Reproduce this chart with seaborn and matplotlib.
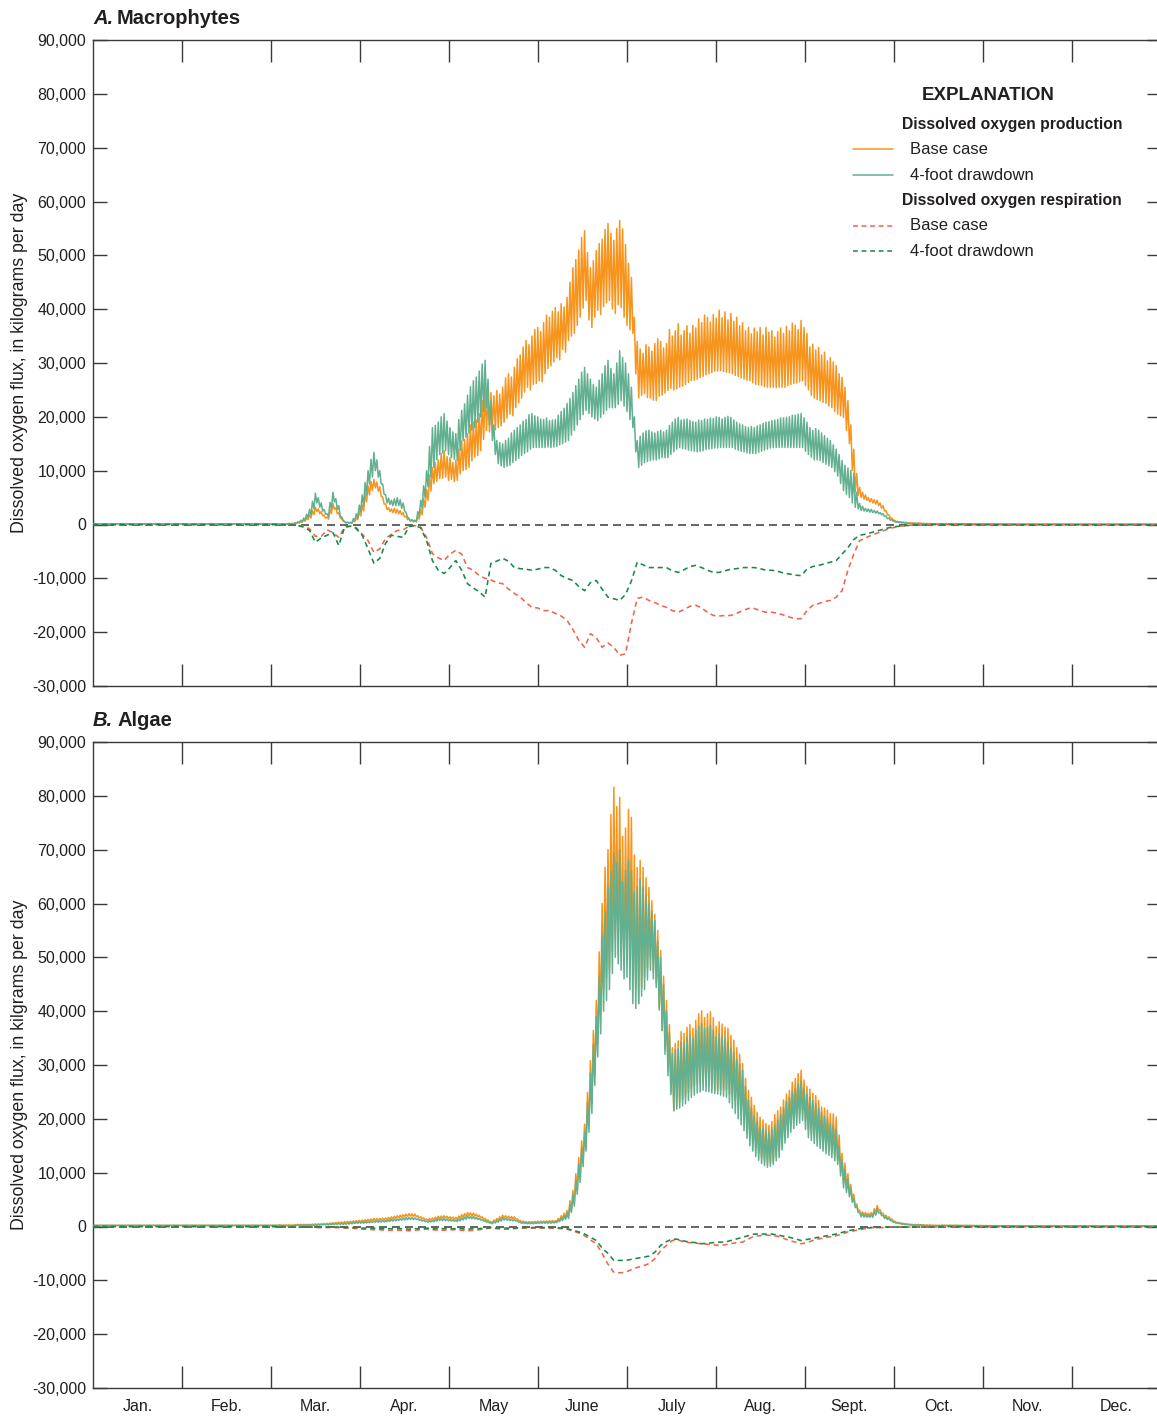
import numpy as np
import pandas as pd
import matplotlib
matplotlib.use("Agg")
import matplotlib.pyplot as plt
import seaborn as sns
from matplotlib.ticker import FixedLocator, FuncFormatter, NullFormatter

# ---------------- DATA (thousands of kg/day) ----------------
MONTHS = ["Jan.", "Feb.", "Mar.", "Apr.", "May", "June", "July", "Aug.",
          "Sept.", "Oct.", "Nov.", "Dec."]
YTICKS = [-30000, -20000, -10000, 0, 10000, 20000, 30000, 40000, 50000,
          60000, 70000, 80000, 90000]
ACTIVE_START = 64          # first day of the daily record (day of year)
PRE_DAYS = [0, 16, 32, 48, 63]
POST_DAYS = [290, 305, 320, 335, 350, 365]

# Panel A - macrophytes, production: daily daytime high / night low, days 64-289
A_base_hi = [0.1, 0.1, 0.1, 0.2, 0.2, 0.3, 0.4, 0.6, 0.9, 1.3, 1.8, 2.6, 3.2, 2.9, 2.4, 1.7, 1.4, 2.8, 3.9, 3.1,
             2.2, 1.0, 0.5, 0.4, 0.3, 0.7, 1.3, 2.4, 3.6, 5.8, 7.2, 8.0, 8.4, 7.9, 7.0, 5.1, 3.8, 3.1, 2.9, 3.0,
             2.8, 2.6, 2.2, 1.5, 1.0, 0.8, 0.7, 1.5, 2.8, 4.8, 6.5, 9.2, 10.6, 11.5, 12.0, 13.2, 13.7, 12.6, 12.4, 11.5,
             11.9, 14.0, 15.5, 15.8, 16.9, 18.5, 19.0, 19.4, 20.6, 23.0, 24.9, 23.8, 24.5, 23.9, 24.9, 24.2, 25.5, 27.2, 28.0, 27.4,
             29.2, 30.8, 31.5, 33.0, 34.2, 33.4, 35.0, 36.2, 36.6, 35.8, 37.5, 38.9, 38.5, 39.6, 40.3, 39.5, 41.0, 40.4, 42.2, 45.0,
             47.7, 49.2, 51.0, 53.3, 54.6, 50.5, 47.7, 49.0, 50.9, 52.2, 53.0, 54.8, 55.9, 54.1, 52.8, 55.0, 56.5, 54.9, 52.0, 48.5,
             45.9, 38.5, 34.0, 32.6, 31.8, 33.4, 33.0, 32.2, 33.6, 34.5, 34.0, 32.8, 33.6, 36.2, 35.0, 36.0, 37.3, 35.2, 36.0, 36.9,
             35.5, 37.0, 36.5, 38.2, 37.5, 38.9, 38.5, 37.6, 39.0, 38.3, 39.8, 38.4, 39.5, 38.0, 39.2, 37.7, 38.5, 36.9, 37.5, 36.0,
             36.6, 35.4, 36.5, 35.8, 36.6, 35.2, 36.6, 35.7, 36.0, 34.8, 35.8, 36.5, 35.5, 36.8, 36.0, 37.4, 37.0, 36.2, 37.9, 36.6,
             35.5, 33.0, 33.5, 32.4, 32.9, 31.5, 32.0, 30.4, 31.0, 30.2, 29.5, 28.0, 27.3, 25.5, 23.0, 18.5, 14.0, 9.5, 6.9, 6.0,
             5.5, 5.0, 4.8, 4.6, 4.5, 4.0, 3.5, 2.6, 1.8, 1.2, 0.8, 0.6, 0.5, 0.45, 0.4, 0.35, 0.3, 0.3, 0.3, 0.25,
             0.2, 0.2, 0.2, 0.15, 0.1, 0.1]
A_base_lo = [0.0, 0.1, 0.1, 0.1, 0.1, 0.2, 0.3, 0.4, 0.6, 0.9, 1.2, 1.8, 2.4, 2.0, 1.6, 1.2, 1.0, 2.0, 2.8, 2.0,
             1.2, 0.6, 0.3, 0.25, 0.2, 0.5, 0.9, 1.6, 2.5, 4.2, 5.5, 6.3, 6.8, 6.2, 5.2, 3.8, 2.8, 2.4, 2.2, 2.1,
             2.0, 1.8, 1.4, 0.9, 0.6, 0.5, 0.5, 1.0, 1.8, 3.2, 4.5, 6.2, 7.6, 8.0, 8.5, 8.6, 8.8, 8.2, 8.4, 8.0,
             8.2, 9.4, 10.0, 10.2, 10.6, 11.8, 12.5, 12.8, 13.7, 15.8, 17.5, 17.2, 18.0, 17.6, 18.0, 18.3, 19.0, 19.8, 20.5, 20.2,
             21.7, 22.6, 23.5, 24.6, 25.5, 25.0, 26.0, 26.2, 26.7, 26.5, 28.0, 29.0, 29.5, 30.2, 31.0, 30.6, 32.5, 32.0, 34.2, 35.0,
             35.5, 37.0, 38.5, 40.2, 41.6, 38.0, 36.6, 38.5, 39.8, 39.0, 40.5, 41.2, 41.6, 40.0, 39.2, 40.8, 40.3, 38.5, 37.0, 36.2,
             35.5, 28.0, 23.5, 24.0, 24.3, 23.6, 23.5, 23.1, 23.0, 23.8, 24.0, 24.4, 24.9, 25.3, 25.0, 25.2, 25.5, 25.7, 26.0, 26.4,
             26.7, 26.8, 27.0, 27.3, 27.5, 27.8, 28.0, 28.2, 28.5, 28.5, 28.6, 28.4, 28.3, 28.2, 28.0, 27.7, 27.5, 27.2, 27.0, 26.8,
             26.7, 26.3, 26.0, 25.9, 25.8, 25.6, 25.5, 25.5, 25.5, 25.4, 25.5, 25.5, 25.5, 25.8, 26.0, 26.2, 26.3, 26.5, 26.7, 25.8,
             25.0, 24.0, 23.5, 23.2, 23.0, 22.7, 22.5, 22.0, 21.7, 21.0, 20.5, 20.2, 19.9, 17.5, 15.0, 10.0, 6.0, 5.4, 5.0, 4.7,
             4.5, 4.2, 4.0, 3.8, 3.5, 3.0, 2.5, 1.8, 1.2, 0.8, 0.5, 0.45, 0.4, 0.35, 0.3, 0.25, 0.2, 0.2, 0.2, 0.15,
             0.1, 0.1, 0.1, 0.1, 0.1, 0.1]
A_draw_hi = [0.1, 0.1, 0.1, 0.2, 0.2, 0.3, 0.5, 0.8, 1.2, 1.9, 2.8, 4.3, 5.8, 5.0, 4.0, 2.8, 2.0, 4.1, 6.0, 4.8,
             3.5, 1.4, 0.5, 0.45, 0.4, 1.1, 2.0, 3.6, 5.5, 7.8, 10.0, 12.1, 13.4, 12.0, 10.0, 7.5, 5.5, 4.9, 4.5, 4.8,
             5.0, 4.6, 4.0, 2.2, 1.1, 0.9, 0.8, 2.4, 4.5, 7.2, 10.0, 14.5, 18.0, 18.4, 19.0, 20.0, 20.6, 19.2, 18.0, 17.2,
             16.9, 19.5, 21.2, 22.4, 24.0, 25.6, 26.7, 27.4, 28.5, 29.8, 30.5, 27.0, 23.0, 18.5, 15.6, 15.2, 15.0, 15.6, 16.0, 17.0,
             17.5, 18.0, 18.5, 19.2, 19.5, 20.4, 20.6, 20.2, 20.0, 19.6, 19.5, 19.8, 19.3, 19.4, 19.5, 20.3, 21.0, 21.6, 22.5, 23.4,
             24.5, 25.8, 27.0, 28.3, 29.2, 28.0, 27.0, 26.0, 25.5, 26.8, 28.0, 29.5, 30.5, 29.0, 28.0, 30.0, 32.3, 31.0, 30.0, 28.0,
             25.5, 20.0, 15.6, 16.4, 17.0, 17.4, 17.5, 17.2, 17.0, 17.3, 17.5, 17.2, 17.5, 18.4, 19.0, 19.6, 19.9, 19.4, 19.5, 19.6,
             19.3, 19.1, 19.0, 19.4, 19.3, 19.6, 19.5, 19.8, 19.7, 20.0, 19.9, 19.6, 19.9, 20.1, 19.9, 19.4, 19.0, 18.7, 18.5, 18.2,
             18.0, 18.2, 18.0, 18.3, 18.5, 18.8, 19.0, 19.1, 19.3, 19.4, 19.5, 19.8, 19.8, 19.9, 20.0, 20.3, 20.3, 20.5, 20.6, 19.8,
             19.0, 18.0, 17.5, 17.8, 17.5, 17.0, 16.5, 16.0, 15.6, 14.8, 14.0, 13.0, 11.9, 11.0, 10.5, 10.0, 9.5, 6.0, 3.9, 3.4,
             3.0, 2.9, 2.8, 2.6, 2.5, 2.2, 2.0, 1.6, 1.2, 0.9, 0.6, 0.5, 0.4, 0.35, 0.3, 0.25, 0.2, 0.2, 0.2, 0.2,
             0.2, 0.15, 0.1, 0.1, 0.1, 0.1]
A_draw_lo = [0.0, 0.1, 0.1, 0.1, 0.1, 0.2, 0.3, 0.5, 0.8, 1.3, 1.8, 2.9, 4.0, 3.2, 2.5, 1.9, 1.5, 2.9, 4.2, 2.8,
             1.5, 0.8, 0.3, 0.3, 0.3, 0.8, 1.3, 2.4, 3.5, 5.5, 7.5, 8.8, 10.0, 8.8, 7.5, 5.6, 4.0, 3.7, 3.5, 3.5,
             3.5, 3.0, 2.5, 1.4, 0.7, 0.6, 0.5, 1.6, 3.0, 5.0, 7.0, 8.8, 10.6, 12.0, 13.0, 13.3, 13.7, 13.0, 12.4, 12.1,
             11.9, 13.8, 15.6, 16.2, 17.0, 17.5, 18.0, 19.0, 20.0, 21.0, 21.7, 18.5, 15.6, 13.0, 11.3, 10.9, 10.6, 10.8, 11.0, 11.5,
             11.9, 12.3, 12.8, 13.2, 13.5, 14.0, 14.3, 14.3, 14.3, 14.3, 14.3, 14.4, 14.3, 14.4, 14.5, 14.8, 15.0, 15.3, 15.6, 16.6,
             17.5, 18.5, 19.5, 20.4, 21.2, 20.6, 20.0, 19.6, 19.3, 19.9, 20.5, 21.2, 21.7, 21.7, 21.7, 22.3, 23.0, 22.0, 21.0, 19.5,
             18.0, 13.5, 10.6, 11.0, 11.5, 11.7, 11.9, 12.0, 12.0, 12.2, 12.4, 12.4, 12.4, 13.0, 13.5, 14.0, 14.3, 14.1, 14.0, 13.8,
             13.7, 13.6, 13.5, 13.6, 13.7, 13.9, 14.0, 14.1, 14.2, 14.2, 14.3, 14.3, 14.3, 14.3, 14.3, 14.0, 13.8, 13.6, 13.5, 13.3,
             13.2, 13.2, 13.2, 13.4, 13.6, 13.8, 14.0, 14.2, 14.3, 14.3, 14.3, 14.3, 14.3, 14.3, 14.3, 14.3, 14.3, 14.3, 14.3, 13.6,
             13.0, 12.5, 12.0, 12.0, 11.9, 11.5, 11.2, 10.9, 10.6, 9.8, 9.0, 7.6, 6.3, 5.6, 5.0, 4.0, 3.2, 2.9, 2.6, 2.5,
             2.4, 2.3, 2.2, 2.1, 2.0, 1.8, 1.5, 1.1, 0.8, 0.6, 0.4, 0.35, 0.3, 0.25, 0.2, 0.2, 0.2, 0.15, 0.1, 0.1,
             0.1, 0.1, 0.1, 0.1, 0.1, 0.1]
# Panel A respiration (every second day from day 64)
A_resp_base = [0.0, -0.1, -0.1, -0.2, -0.3, -0.8, -2.2, -2.2, -1.0, -1.5,
               -2.4, -0.5, -0.3, -0.6, -1.8, -3.0, -5.2, -4.5, -2.6, -1.8,
               -1.1, -1.0, -0.3, -0.2, -0.5, -2.4, -5.4, -6.2, -6.7, -5.5,
               -4.8, -5.5, -8.0, -8.5, -9.5, -10.0, -10.3, -10.8, -11.0, -12.0,
               -12.8, -13.5, -14.5, -15.4, -15.5, -16.0, -16.0, -16.5, -17.0, -17.8,
               -19.5, -21.5, -22.8, -20.3, -21.0, -22.8, -22.0, -22.8, -24.3, -24.0,
               -18.4, -13.7, -13.5, -14.1, -14.5, -15.0, -15.4, -16.0, -16.3, -15.8,
               -15.2, -15.0, -15.5, -16.3, -16.9, -17.0, -16.9, -16.9, -16.5, -16.0,
               -15.6, -15.6, -16.0, -16.3, -16.3, -16.5, -16.8, -17.2, -17.5, -17.5,
               -16.0, -15.0, -14.7, -14.3, -14.1, -13.5, -12.3, -8.5, -5.5, -3.0,
               -2.5, -2.0, -1.6, -1.2, -0.8, -0.5, -0.3, -0.2, -0.1, -0.1,
               -0.1, 0.0, 0.0]
A_resp_draw = [0.0, -0.1, -0.1, -0.2, -0.5, -1.1, -3.3, -2.5, -2.0, -1.5,
               -3.9, -0.5, -0.3, -0.8, -2.0, -4.5, -7.2, -6.3, -3.5, -2.0,
               -2.2, -2.4, -0.4, -0.2, -0.6, -3.0, -6.7, -8.5, -9.1, -8.0,
               -6.7, -8.5, -11.0, -11.8, -12.5, -13.5, -7.2, -6.8, -6.3, -6.8,
               -8.0, -8.2, -8.3, -8.5, -8.3, -8.0, -8.0, -8.5, -9.5, -10.0,
               -10.4, -11.5, -12.3, -10.8, -10.4, -12.0, -13.5, -13.8, -14.1, -13.0,
               -10.5, -7.0, -7.5, -8.0, -8.0, -8.0, -8.0, -8.6, -8.9, -8.4,
               -7.8, -7.6, -8.0, -8.5, -8.9, -8.9, -8.6, -8.3, -8.2, -8.0,
               -8.0, -8.0, -8.2, -8.5, -8.5, -8.7, -9.0, -9.2, -9.4, -9.5,
               -8.3, -7.8, -7.6, -7.3, -7.0, -6.7, -5.5, -4.3, -2.8, -2.0,
               -1.8, -1.5, -1.2, -0.9, -0.6, -0.4, -0.3, -0.2, -0.1, -0.1,
               -0.1, 0.0, 0.0]

# Panel B - algae, production: daily high / low, days 64-289
B_base_hi = [0.3, 0.3, 0.3, 0.3, 0.3, 0.35, 0.4, 0.4, 0.4, 0.4, 0.4, 0.45, 0.5, 0.5, 0.5, 0.55, 0.6, 0.65, 0.7, 0.75,
             0.8, 0.85, 0.9, 0.95, 1.0, 1.05, 1.1, 1.15, 1.2, 1.25, 1.3, 1.4, 1.5, 1.5, 1.5, 1.55, 1.6, 1.7, 1.8, 1.9,
             2.0, 2.1, 2.2, 2.3, 2.4, 2.35, 2.3, 2.0, 1.8, 1.6, 1.4, 1.5, 1.6, 1.75, 1.9, 1.95, 2.0, 1.9, 1.8, 1.75,
             1.7, 1.95, 2.2, 2.4, 2.6, 2.55, 2.5, 2.3, 2.1, 1.8, 1.5, 1.2, 0.9, 1.2, 1.5, 1.8, 2.1, 2.0, 1.9, 1.85,
             1.8, 1.4, 1.1, 1.0, 0.9, 0.9, 0.9, 0.95, 1.0, 1.0, 1.0, 1.05, 1.1, 1.1, 1.1, 1.5, 2.0, 2.5, 3.0, 4.8,
             6.7, 9.8, 12.8, 15.9, 19.0, 24.9, 30.8, 36.4, 42.0, 51.0, 60.0, 66.7, 70.0, 76.5, 81.6, 78.0, 79.7, 72.5, 74.0, 77.5,
             76.0, 69.0, 66.7, 68.0, 66.7, 64.8, 63.0, 60.5, 58.0, 55.0, 51.3, 46.5, 42.0, 37.5, 33.2, 34.0, 34.5, 36.2, 35.9, 37.0,
             37.5, 36.8, 38.3, 39.5, 40.1, 38.8, 39.5, 39.9, 38.8, 37.2, 38.0, 37.6, 37.0, 36.8, 35.5, 34.6, 33.2, 32.0, 30.3, 27.5,
             25.3, 24.0, 22.5, 21.2, 20.3, 19.8, 19.1, 18.8, 19.5, 20.8, 21.5, 22.2, 23.5, 24.6, 25.3, 26.8, 27.5, 28.4, 29.0, 27.2,
             26.0, 25.5, 24.7, 24.3, 23.4, 22.2, 22.0, 21.6, 21.0, 20.9, 20.3, 17.0, 13.6, 11.8, 9.8, 7.8, 6.0, 4.2, 3.0, 2.7,
             2.6, 2.5, 2.6, 3.3, 3.9, 3.1, 2.5, 2.1, 1.8, 1.4, 1.0, 0.8, 0.7, 0.6, 0.5, 0.45, 0.4, 0.4, 0.4, 0.35,
             0.3, 0.3, 0.3, 0.25, 0.2, 0.2]
B_base_lo = [0.2, 0.2, 0.2, 0.2, 0.2, 0.25, 0.3, 0.3, 0.3, 0.3, 0.3, 0.3, 0.3, 0.35, 0.4, 0.4, 0.4, 0.45, 0.5, 0.55,
             0.6, 0.6, 0.6, 0.65, 0.7, 0.75, 0.8, 0.85, 0.9, 0.95, 1.0, 1.05, 1.1, 1.15, 1.2, 1.2, 1.2, 1.3, 1.4, 1.5,
             1.6, 1.7, 1.8, 1.85, 1.9, 1.85, 1.8, 1.6, 1.4, 1.25, 1.1, 1.15, 1.2, 1.35, 1.5, 1.55, 1.6, 1.5, 1.4, 1.35,
             1.3, 1.5, 1.7, 1.85, 2.0, 1.95, 1.9, 1.75, 1.6, 1.35, 1.1, 0.9, 0.7, 0.9, 1.1, 1.35, 1.6, 1.55, 1.5, 1.45,
             1.4, 1.1, 0.8, 0.75, 0.7, 0.7, 0.7, 0.75, 0.8, 0.8, 0.8, 0.8, 0.8, 0.85, 0.9, 1.15, 1.4, 1.55, 1.7, 3.0,
             4.3, 6.7, 9.1, 12.2, 15.4, 19.1, 22.8, 28.4, 34.0, 39.0, 44.0, 46.3, 48.0, 51.0, 53.7, 50.5, 50.0, 48.5, 50.0, 52.0,
             47.6, 44.0, 41.4, 44.5, 46.3, 48.0, 50.0, 47.5, 45.1, 40.5, 36.4, 33.0, 30.0, 25.0, 21.5, 22.4, 23.0, 23.5, 24.0, 24.8,
             25.5, 26.0, 26.6, 26.6, 26.6, 26.3, 26.0, 25.6, 25.3, 25.3, 25.3, 25.3, 25.3, 24.6, 24.0, 23.4, 22.8, 21.2, 19.7, 18.0,
             16.5, 15.5, 14.5, 13.6, 12.8, 12.2, 11.7, 11.8, 12.0, 13.0, 14.1, 15.5, 17.0, 18.0, 19.1, 19.8, 20.5, 21.0, 21.5, 19.8,
             18.0, 17.2, 16.5, 16.2, 16.0, 15.2, 14.5, 14.0, 13.6, 13.0, 12.3, 10.2, 8.0, 7.0, 6.1, 5.0, 4.0, 3.0, 2.2, 2.1,
             2.0, 2.0, 2.0, 2.5, 3.0, 2.4, 1.8, 1.5, 1.3, 1.0, 0.7, 0.6, 0.5, 0.45, 0.4, 0.35, 0.3, 0.3, 0.3, 0.25,
             0.2, 0.2, 0.2, 0.2, 0.2, 0.2]
B_draw_hi = [0.2, 0.2, 0.2, 0.2, 0.2, 0.25, 0.3, 0.3, 0.3, 0.3, 0.3, 0.3, 0.3, 0.35, 0.4, 0.4, 0.4, 0.45, 0.5, 0.55,
             0.6, 0.6, 0.6, 0.65, 0.7, 0.75, 0.8, 0.85, 0.9, 0.9, 0.9, 0.95, 1.0, 1.05, 1.1, 1.1, 1.1, 1.2, 1.3, 1.35,
             1.4, 1.5, 1.6, 1.65, 1.7, 1.65, 1.6, 1.45, 1.3, 1.15, 1.0, 1.05, 1.1, 1.25, 1.4, 1.45, 1.5, 1.4, 1.3, 1.25,
             1.2, 1.4, 1.6, 1.75, 1.9, 1.85, 1.8, 1.65, 1.5, 1.3, 1.1, 0.9, 0.7, 0.9, 1.1, 1.35, 1.6, 1.5, 1.4, 1.35,
             1.3, 1.05, 0.8, 0.75, 0.7, 0.7, 0.7, 0.7, 0.7, 0.75, 0.8, 0.8, 0.8, 0.85, 0.9, 1.2, 1.5, 2.0, 2.5, 4.1,
             5.8, 8.6, 11.5, 14.5, 17.5, 23.0, 28.5, 33.8, 39.0, 46.5, 54.0, 58.5, 63.0, 66.0, 69.3, 67.5, 70.0, 64.0, 66.1, 68.0,
             66.0, 62.0, 63.0, 64.5, 63.0, 61.5, 60.0, 58.5, 56.8, 53.0, 50.0, 45.0, 40.0, 36.0, 32.1, 32.8, 33.0, 34.2, 34.0, 35.0,
             35.5, 35.0, 36.5, 37.2, 37.7, 36.8, 37.0, 37.4, 36.4, 35.2, 35.8, 35.3, 35.0, 34.2, 33.0, 32.3, 31.0, 30.2, 29.0, 26.0,
             23.5, 22.0, 20.5, 19.4, 18.4, 18.2, 17.8, 17.5, 18.0, 18.8, 19.7, 20.8, 22.0, 23.2, 24.0, 25.0, 25.5, 26.4, 27.0, 25.6,
             24.5, 24.0, 23.4, 22.8, 22.0, 21.2, 20.5, 19.9, 19.1, 18.8, 18.0, 15.0, 12.3, 10.6, 8.8, 7.0, 5.2, 3.8, 2.6, 2.4,
             2.2, 2.1, 2.2, 2.8, 3.3, 2.7, 2.1, 1.8, 1.5, 1.1, 0.8, 0.7, 0.6, 0.5, 0.4, 0.35, 0.3, 0.3, 0.3, 0.3,
             0.2, 0.2, 0.2, 0.2, 0.2, 0.2]
B_draw_lo = [0.1, 0.1, 0.1, 0.1, 0.1, 0.15, 0.2, 0.2, 0.2, 0.2, 0.2, 0.2, 0.2, 0.25, 0.3, 0.3, 0.3, 0.35, 0.4, 0.4,
             0.4, 0.4, 0.4, 0.45, 0.5, 0.55, 0.6, 0.6, 0.6, 0.65, 0.7, 0.75, 0.8, 0.8, 0.8, 0.85, 0.9, 0.95, 1.0, 1.05,
             1.1, 1.15, 1.2, 1.25, 1.3, 1.3, 1.3, 1.15, 1.0, 0.9, 0.8, 0.85, 0.9, 1.0, 1.1, 1.1, 1.1, 1.05, 1.0, 0.95,
             0.9, 1.05, 1.2, 1.35, 1.5, 1.45, 1.4, 1.3, 1.2, 1.0, 0.8, 0.65, 0.5, 0.65, 0.8, 1.0, 1.2, 1.15, 1.1, 1.05,
             1.0, 0.8, 0.6, 0.55, 0.5, 0.5, 0.5, 0.55, 0.6, 0.6, 0.6, 0.6, 0.6, 0.65, 0.7, 0.9, 1.1, 1.3, 1.5, 2.6,
             3.8, 6.0, 8.2, 11.1, 14.0, 17.5, 21.0, 26.2, 31.5, 35.8, 40.0, 42.0, 44.0, 47.0, 50.0, 48.8, 47.6, 46.0, 46.3, 44.0,
             41.4, 40.5, 41.4, 42.8, 44.0, 45.8, 47.6, 46.0, 44.4, 40.2, 36.4, 32.0, 28.0, 24.5, 21.5, 21.8, 22.0, 22.4, 22.8, 23.4,
             24.0, 24.4, 24.8, 25.0, 25.3, 25.1, 25.0, 24.8, 24.7, 24.6, 24.4, 24.2, 24.0, 23.0, 22.0, 21.0, 20.0, 18.9, 17.8, 16.4,
             15.0, 14.0, 13.0, 12.3, 11.7, 11.3, 11.0, 11.2, 11.5, 12.2, 12.8, 14.2, 15.5, 16.5, 17.5, 18.2, 18.8, 19.2, 19.7, 18.0,
             16.5, 16.0, 15.4, 14.9, 14.5, 14.0, 13.5, 13.2, 12.8, 12.2, 11.5, 9.4, 7.2, 6.3, 5.5, 4.5, 3.5, 2.6, 1.8, 1.75,
             1.7, 1.7, 1.7, 2.1, 2.5, 2.0, 1.5, 1.3, 1.1, 0.8, 0.6, 0.5, 0.4, 0.35, 0.3, 0.25, 0.2, 0.2, 0.2, 0.2,
             0.1, 0.1, 0.1, 0.1, 0.1, 0.1]
# Panel B respiration (every second day from day 64)
B_resp_base = [0.0, -0.1, -0.1, -0.1, -0.1, -0.1, -0.2, -0.2, -0.2, -0.2,
               -0.2, -0.3, -0.3, -0.4, -0.5, -0.5, -0.6, -0.6, -0.7, -0.7,
               -0.7, -0.7, -0.8, -0.7, -0.6, -0.5, -0.6, -0.7, -0.7, -0.6,
               -0.6, -0.7, -0.8, -0.7, -0.6, -0.4, -0.3, -0.4, -0.5, -0.5,
               -0.4, -0.3, -0.3, -0.3, -0.3, -0.3, -0.3, -0.3, -0.4, -0.5,
               -0.8, -1.2, -1.7, -2.5, -3.2, -5.0, -7.0, -8.5, -8.6, -8.5,
               -8.0, -7.6, -7.3, -6.9, -6.0, -4.5, -3.5, -2.6, -2.5, -2.9,
               -3.0, -3.1, -3.2, -3.3, -3.4, -3.5, -3.4, -3.2, -3.0, -2.9,
               -2.3, -1.8, -1.7, -1.6, -1.7, -1.8, -2.2, -2.6, -2.9, -3.2,
               -3.0, -2.6, -2.3, -2.1, -1.9, -1.7, -1.4, -1.0, -0.8, -0.6,
               -0.4, -0.2, -0.2, -0.2, -0.1, -0.1, -0.1, -0.1, -0.1, -0.1,
               -0.1, -0.1, -0.1]
B_resp_draw = [0.0, -0.1, -0.1, -0.1, -0.1, -0.1, -0.1, -0.1, -0.1, -0.1,
               -0.1, -0.2, -0.2, -0.2, -0.3, -0.3, -0.3, -0.4, -0.4, -0.4,
               -0.4, -0.4, -0.5, -0.4, -0.4, -0.3, -0.4, -0.4, -0.4, -0.4,
               -0.4, -0.4, -0.5, -0.4, -0.4, -0.3, -0.2, -0.3, -0.3, -0.3,
               -0.3, -0.2, -0.2, -0.2, -0.2, -0.2, -0.2, -0.2, -0.3, -0.4,
               -0.7, -1.0, -1.4, -2.0, -2.6, -4.0, -5.0, -6.3, -6.3, -6.3,
               -6.1, -5.9, -5.7, -5.5, -4.8, -3.5, -2.8, -2.3, -2.4, -2.7,
               -2.9, -3.0, -3.2, -3.1, -3.0, -2.9, -2.9, -2.6, -2.3, -2.0,
               -1.7, -1.4, -1.4, -1.4, -1.4, -1.6, -1.8, -2.0, -2.3, -2.6,
               -2.4, -2.2, -2.0, -1.8, -1.6, -1.4, -1.1, -0.8, -0.6, -0.4,
               -0.3, -0.2, -0.2, -0.1, -0.1, -0.1, -0.1, -0.1, -0.1, -0.1,
               -0.1, -0.1, -0.1]

# quiet-season values (Jan.-early Mar. and Oct.-Dec.)
A_prod_pre = [0.1, 0.1, 0.1, 0.1, 0.1]
A_prod_post = [0.1, 0.1, 0.05, 0.05, 0.05, 0.05]
B_prod_pre = [0.2, 0.2, 0.2, 0.2, 0.2]
B_prod_post = [0.2, 0.15, 0.1, 0.1, 0.1, 0.1]
RESP_PRE = [0.0, 0.0, 0.0, 0.0, 0.0]
RESP_POST = [0.0, -0.05, -0.05, -0.05, -0.05, -0.05]

# ---------------- STYLE ----------------
ORANGE = "#F7941D"
GREEN = "#62B08F"
RED_D = "#F0654A"
GREEN_D = "#168A47"
TXT = "#231F20"
AXC = "#3A3A3A"
DAYS_PER_MONTH = 365.0 / 12.0
RESP_DASH = (0, (3.2, 2.4))

sns.set_theme(style="ticks")
plt.rcParams["font.family"] = ["Liberation Sans", "DejaVu Sans"]
plt.rcParams["text.color"] = TXT


def prod_frame(pre, hi, lo, post):
    n = min(len(hi), len(lo))
    act = np.empty(2 * n)
    act[0::2] = hi[:n]
    act[1::2] = lo[:n]
    d = ACTIVE_START + np.arange(n, dtype=float)
    act_days = np.empty(2 * n)
    act_days[0::2] = d          # daytime high
    act_days[1::2] = d + 0.5    # night-time low
    days = np.concatenate([PRE_DAYS, act_days, POST_DAYS])
    vals = np.concatenate([pre, act, post]) * 1000.0
    return pd.DataFrame({"month": days / DAYS_PER_MONTH, "flux": vals})


def resp_frame(pre, vals, post):
    n = len(vals)
    days = np.concatenate([PRE_DAYS, ACTIVE_START + 2 * np.arange(n), POST_DAYS])
    v = np.concatenate([pre, vals, post]) * 1000.0
    return pd.DataFrame({"month": days / DAYS_PER_MONTH, "flux": v})


W, H = 1157, 1420
fig = plt.figure(figsize=(W / 100, H / 100), dpi=100)
L = 93 / W
AW = 1068 / W
axA = fig.add_axes([L, 1 - 686 / H, AW, 646 / H])
axB = fig.add_axes([L, 1 - 1388 / H, AW, 646 / H])


def draw_panel(ax, pb, pd_, rb, rd, show_x):
    ax.axhline(0, color="#4A4A4A", lw=1.2, ls=(0, (4.8, 3.0)), zorder=1)
    sns.lineplot(data=pb, x="month", y="flux", ax=ax, color=ORANGE, lw=1.1,
                 estimator=None, sort=False, zorder=2)
    sns.lineplot(data=pd_, x="month", y="flux", ax=ax, color=GREEN, lw=1.1,
                 estimator=None, sort=False, zorder=3)
    sns.lineplot(data=rb, x="month", y="flux", ax=ax, color=RED_D, lw=1.15,
                 estimator=None, sort=False, zorder=4, linestyle=RESP_DASH)
    sns.lineplot(data=rd, x="month", y="flux", ax=ax, color=GREEN_D, lw=1.15,
                 estimator=None, sort=False, zorder=5, linestyle=RESP_DASH)
    ax.set_xlim(0, 12)
    ax.set_ylim(-30000, 90000)
    ax.set_xlabel("")
    ax.set_ylabel("")
    for s in ["left", "top", "bottom", "right"]:
        ax.spines[s].set_visible(True)
        ax.spines[s].set_color(AXC)
        ax.spines[s].set_linewidth(1.0)
    ax.yaxis.set_major_locator(FixedLocator(YTICKS))
    ax.yaxis.set_major_formatter(FuncFormatter(lambda v, p: f"{int(round(v)):,}"))
    ax.tick_params(axis="y", which="major", direction="in", length=10, width=1.0,
                   color=AXC, left=True, right=True, labelsize=11.5, pad=5,
                   labelcolor=TXT)
    ax.xaxis.set_major_locator(FixedLocator(list(range(1, 12))))
    ax.xaxis.set_major_formatter(NullFormatter())
    ax.xaxis.set_minor_locator(FixedLocator([m + 0.5 for m in range(12)]))
    if show_x:
        ax.xaxis.set_minor_formatter(FuncFormatter(lambda v, p: MONTHS[int(v)]))
    else:
        ax.xaxis.set_minor_formatter(NullFormatter())
    ax.tick_params(axis="x", which="major", direction="in", length=16, width=1.0,
                   color=AXC, top=True, bottom=True)
    ax.tick_params(axis="x", which="minor", length=0, labelsize=11.5, pad=8,
                   labelcolor=TXT)
    ax.set_facecolor("white")


draw_panel(axA,
           prod_frame(A_prod_pre, A_base_hi, A_base_lo, A_prod_post),
           prod_frame(A_prod_pre, A_draw_hi, A_draw_lo, A_prod_post),
           resp_frame(RESP_PRE, A_resp_base, RESP_POST),
           resp_frame(RESP_PRE, A_resp_draw, RESP_POST), False)
draw_panel(axB,
           prod_frame(B_prod_pre, B_base_hi, B_base_lo, B_prod_post),
           prod_frame(B_prod_pre, B_draw_hi, B_draw_lo, B_prod_post),
           resp_frame(RESP_PRE, B_resp_base, RESP_POST),
           resp_frame(RESP_PRE, B_resp_draw, RESP_POST), True)

# y labels
fig.text(20 / W, 1 - 363 / H, "Dissolved oxygen flux, in kilograms per day",
         rotation=90, ha="center", va="center", fontsize=12.8, color=TXT)
fig.text(20 / W, 1 - 1065 / H, "Dissolved oxygen flux, in kilgrams per day",
         rotation=90, ha="center", va="center", fontsize=12.8, color=TXT)

# panel titles
fig.canvas.draw()
renderer = fig.canvas.get_renderer()
for ypx, letter, name in [(18, "A.", "Macrophytes"), (720, "B.", "Algae")]:
    t = fig.text(L, 1 - ypx / H, letter, fontsize=14.5, fontweight="bold",
                 fontstyle="italic", ha="left", va="center", color=TXT)
    bb = t.get_window_extent(renderer=renderer)
    fig.text((bb.x1 + 4) / W, 1 - ypx / H, name, fontsize=14.5,
             fontweight="bold", ha="left", va="center", color=TXT)

# explanation (legend) in panel A


def fx(px):
    return (px - 93) / 1068.0


def fy(py):
    return (686 - py) / 646.0


axA.text(fx(988), fy(95), "EXPLANATION", transform=axA.transAxes, ha="center",
         va="center", fontsize=13.5, fontweight="bold", color=TXT)
axA.text(fx(902), fy(124), "Dissolved oxygen production", transform=axA.transAxes,
         ha="left", va="center", fontsize=11.3, fontweight="bold", color=TXT)
axA.text(fx(902), fy(200), "Dissolved oxygen respiration", transform=axA.transAxes,
         ha="left", va="center", fontsize=11.3, fontweight="bold", color=TXT)
entries = [(149, "Base case", ORANGE, "-"),
           (175, "4-foot drawdown", GREEN, "-"),
           (226, "Base case", RED_D, RESP_DASH),
           (251, "4-foot drawdown", GREEN_D, RESP_DASH)]
for py, lab, col, ls in entries:
    axA.plot([fx(853), fx(893)], [fy(py), fy(py)], transform=axA.transAxes,
             color=col, lw=1.1, ls=ls, clip_on=False)
    axA.text(fx(910), fy(py), lab, transform=axA.transAxes, ha="left",
             va="center", fontsize=12, color=TXT)

fig.savefig("out.png", dpi=100, facecolor="white")
